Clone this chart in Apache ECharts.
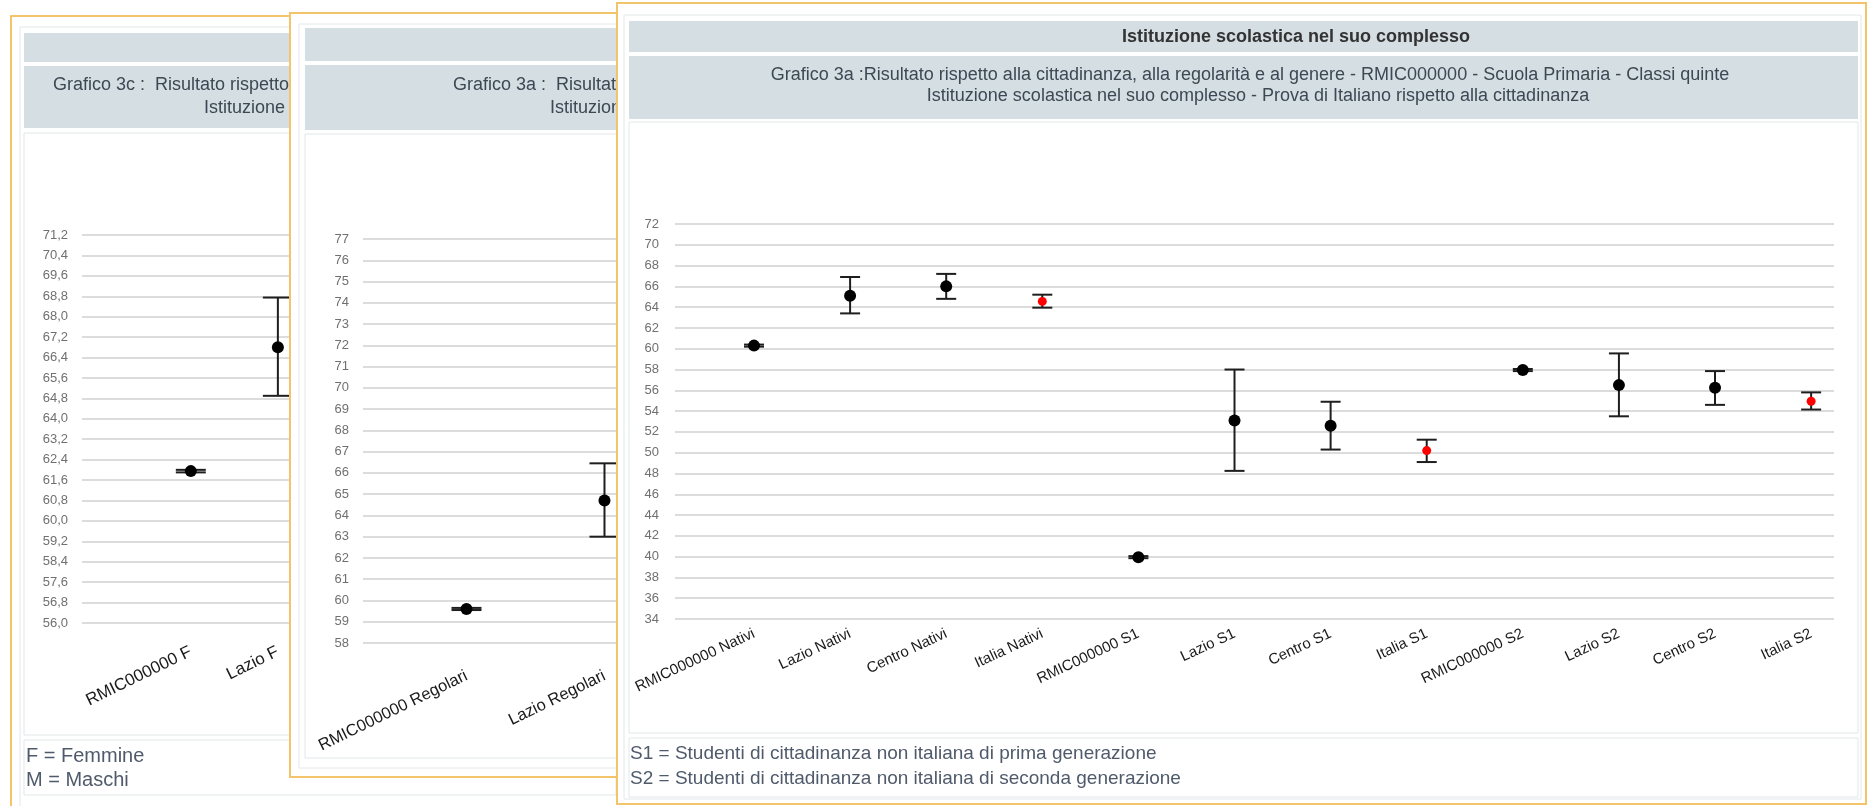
<!DOCTYPE html>
<html><head><meta charset="utf-8">
<script src="https://cdn.jsdelivr.net/npm/echarts@6/dist/echarts.min.js"></script>
<style>
html,body{margin:0;padding:0;width:1868px;height:806px;overflow:hidden;background:#fff;}
.panel{position:absolute;overflow:hidden;background:#fff;}
</style></head><body>
<div id="p1" class="panel" style="left:10px;top:15px;width:620px;height:800px;z-index:1"></div>
<div id="p2" class="panel" style="left:289px;top:12px;width:700px;height:766px;z-index:2"></div>
<div id="p3" class="panel" style="left:616px;top:2px;width:1251px;height:804px;z-index:3"></div>
<script>
// ---------- DATA ----------
// Grafico 3c (genere) - only the visible categories
const genderCategories = ['RMIC000000 F', 'Lazio F'];
const genderMean = [61.95, 66.8];
const genderLow  = [61.9, 64.9];
const genderHigh = [62.0, 68.75];
const genderAxis = {min: 56.0, max: 71.2, interval: 0.8};

// Grafico 3a (regolarità) - only the visible categories
const regCategories = ['RMIC000000 Regolari', 'Lazio Regolari'];
const regMean = [59.6, 64.7];
const regLow  = [59.55, 63.0];
const regHigh = [59.65, 66.45];
const regAxis = {min: 58, max: 77, interval: 1};

// Grafico 3a (cittadinanza) - front panel
const mainCategories = ['RMIC000000 Nativi', 'Lazio Nativi', 'Centro Nativi', 'Italia Nativi',
  'RMIC000000 S1', 'Lazio S1', 'Centro S1', 'Italia S1',
  'RMIC000000 S2', 'Lazio S2', 'Centro S2', 'Italia S2'];
const mainMean = [60.3, 65.1, 66.0, 64.55, 39.95, 53.1, 52.6, 50.2, 57.95, 56.5, 56.25, 54.95];
const mainLow  = [60.2, 63.4, 64.8, 63.95, 39.85, 48.25, 50.3, 49.1, 57.85, 53.5, 54.6, 54.15];
const mainHigh = [60.4, 66.9, 67.2, 65.2, 40.05, 58.0, 54.9, 51.25, 58.05, 59.55, 57.85, 55.8];
const mainAxis = {min: 34, max: 72, interval: 2};

const headerTitle = 'Istituzione scolastica nel suo complesso';
const sub3c = ['Grafico 3c :  Risultato rispetto alla cittadinanza, alla regolarità e al genere - RMIC000000 - Scuola Primaria - Classi quinte',
               'Istituzione scolastica nel suo complesso - Prova di Italiano rispetto al genere'];
const sub3aReg = ['Grafico 3a :  Risultato rispetto alla cittadinanza, alla regolarità e al genere - RMIC000000 - Scuola Primaria - Classi quinte',
                  'Istituzione scolastica nel suo complesso - Prova di Italiano rispetto alla regolarità'];
const sub3aCit = ['Grafico 3a :Risultato rispetto alla cittadinanza, alla regolarità e al genere - RMIC000000 - Scuola Primaria - Classi quinte',
                  'Istituzione scolastica nel suo complesso - Prova di Italiano rispetto alla cittadinanza'];
const notesGender = ['F = Femmine', 'M = Maschi'];
const notesCit = ['S1 = Studenti di cittadinanza non italiana di prima generazione',
                  'S2 = Studenti di cittadinanza non italiana di seconda generazione'];

// ---------- STYLE ----------
const FONT = "'Liberation Sans', Arial, sans-serif";
const ORANGE = '#f3c46a';
const BAR = '#d4dee3';
const FRAME = '#e2e7ea';
const HTEXT = '#3e4853';
const NOTE = '#4f5a6b';

function rect(x, y, w, h, fill, stroke, lw) {
  return {type: 'rect', shape: {x: x, y: y, width: w, height: h}, silent: true,
    style: {fill: fill || 'none', stroke: stroke || 'none', lineWidth: lw || 1}, z: 0};
}
function txt(x, y, s, opt) {
  opt = opt || {};
  return {type: 'text', x: x, y: y, silent: true, z: 5,
    style: {text: s, fill: opt.color || HTEXT, font: (opt.weight || 'normal') + ' ' + (opt.size || 18) + 'px ' + FONT,
      textAlign: opt.align || 'left', textVerticalAlign: 'middle'}};
}

function errorSeries(cats, low, high, capHalf) {
  return {
    type: 'custom',
    data: cats.map((c, i) => [i, low[i], high[i]]),
    encode: {x: 0, y: [1, 2]},
    z: 3,
    renderItem: function (params, api) {
      const x = api.value(0);
      const lo = api.coord([x, api.value(1)]);
      const hi = api.coord([x, api.value(2)]);
      const st = {stroke: '#1e1e1e', lineWidth: 2};
      return {type: 'group', children: [
        {type: 'line', shape: {x1: lo[0], y1: lo[1], x2: hi[0], y2: hi[1]}, style: st},
        {type: 'line', shape: {x1: lo[0] - capHalf, y1: lo[1], x2: lo[0] + capHalf, y2: lo[1]}, style: st},
        {type: 'line', shape: {x1: hi[0] - capHalf, y1: hi[1], x2: hi[0] + capHalf, y2: hi[1]}, style: st}
      ]};
    }
  };
}
function pointSeries(cats, mean, size) {
  const isRef = i => cats[i].indexOf('Italia') === 0;
  return {
    type: 'scatter',
    data: cats.map((c, i) => [i, mean[i]]),
    z: 4,
    symbol: 'circle',
    symbolSize: (v, p) => isRef(p.dataIndex) ? size - 3 : size,
    itemStyle: {color: p => isRef(p.dataIndex) ? '#ff0000' : '#000000', opacity: 1}
  };
}
function xAxisFor(cats, min, max, fontSize, rotate, margin) {
  return {
    type: 'value', min: min, max: max,
    splitLine: {show: false}, axisLine: {show: false}, axisTick: {show: false},
    axisLabel: {customValues: cats.map((c, i) => i), formatter: v => cats[Math.round(v)] || '',
      rotate: rotate, fontSize: fontSize, fontFamily: FONT, color: '#1a1a1a', margin: margin}
  };
}
function yAxisFor(ax, margin, fmt) {
  return {
    type: 'value', min: ax.min, max: ax.max, interval: ax.interval,
    axisLine: {show: false}, axisTick: {show: false},
    splitLine: {show: true, lineStyle: {color: '#dcdcdc', width: 2}},
    axisLabel: {fontSize: 13, fontFamily: FONT, color: '#707070', margin: margin, formatter: fmt}
  };
}

// ---------- PANEL 1 : Grafico 3c ----------
(function () {
  const W = 620, H = 800;
  const c = echarts.init(document.getElementById('p1'));
  c.setOption({
    animation: false,
    grid: {left: 72, top: 220, width: 538, height: 388},
    xAxis: xAxisFor(genderCategories, -1.25, 4.93, 17, 26, 28),
    yAxis: yAxisFor(genderAxis, 14, v => v.toFixed(1).replace('.', ',')),
    graphic: [
      rect(1, 1, W - 2, H - 2, '#fff', ORANGE, 2),
      rect(10, 12, W - 20, H - 20, 'none', FRAME, 1),
      rect(14, 18, W - 28, 29, BAR),
      rect(14, 51, W - 28, 62, BAR),
      rect(14, 118, W - 28, 602, '#fff', FRAME, 1),
      rect(14, 725, W - 28, 55, '#fff', FRAME, 1),
      txt(43, 70, sub3c[0]),
      txt(194, 93, sub3c[1]),
      txt(16, 741, notesGender[0], {size: 20, color: NOTE}),
      txt(16, 765, notesGender[1], {size: 20, color: NOTE})
    ],
    series: [errorSeries(genderCategories, genderLow, genderHigh, 15), pointSeries(genderCategories, genderMean, 12)]
  });
})();

// ---------- PANEL 2 : Grafico 3a regolarità ----------
(function () {
  const W = 700, H = 766;
  const c = echarts.init(document.getElementById('p2'));
  c.setOption({
    animation: false,
    grid: {left: 74, top: 227, width: 616, height: 404},
    xAxis: xAxisFor(regCategories, -0.75, 3.714, 16.5, 26, 32),
    yAxis: yAxisFor(regAxis, 14),
    graphic: [
      rect(1, 1, W - 2, H - 2, '#fff', ORANGE, 2),
      rect(10, 12, W - 20, H - 22, 'none', FRAME, 1),
      rect(16, 16, W - 30, 33, BAR),
      rect(16, 53, W - 30, 65, BAR),
      rect(16, 122, W - 30, 624, '#fff', FRAME, 1),
      txt(164, 73, sub3aReg[0]),
      txt(261, 96, sub3aReg[1])
    ],
    series: [errorSeries(regCategories, regLow, regHigh, 15), pointSeries(regCategories, regMean, 12)]
  });
})();

// ---------- PANEL 3 : Grafico 3a cittadinanza ----------
(function () {
  const W = 1251, H = 804;
  const c = echarts.init(document.getElementById('p3'));
  c.setOption({
    animation: false,
    grid: {left: 59, top: 222, width: 1159, height: 395},
    xAxis: xAxisFor(mainCategories, -0.822, 11.238, 15, 25, 14),
    yAxis: yAxisFor(mainAxis, 16),
    graphic: [
      rect(1, 1, W - 2, H - 3, '#fff', ORANGE, 2),
      rect(8, 13, W - 14, H - 20, 'none', FRAME, 1),
      rect(13, 19, W - 22, 31, BAR),
      rect(13, 54, W - 22, 63, BAR),
      rect(13, 120, W - 22, 611, '#fff', FRAME, 1),
      rect(13, 736, W - 22, 59, '#fff', FRAME, 1),
      txt(680, 35, headerTitle, {weight: 'bold', color: '#333', align: 'center'}),
      txt(634, 73, sub3aCit[0], {align: 'center'}),
      txt(642, 94, sub3aCit[1], {align: 'center'}),
      txt(14, 752, notesCit[0], {size: 19, color: NOTE}),
      txt(14, 777, notesCit[1], {size: 19, color: NOTE})
    ],
    series: [errorSeries(mainCategories, mainLow, mainHigh, 10), pointSeries(mainCategories, mainMean, 12)]
  });
})();
</script>
</body></html>
